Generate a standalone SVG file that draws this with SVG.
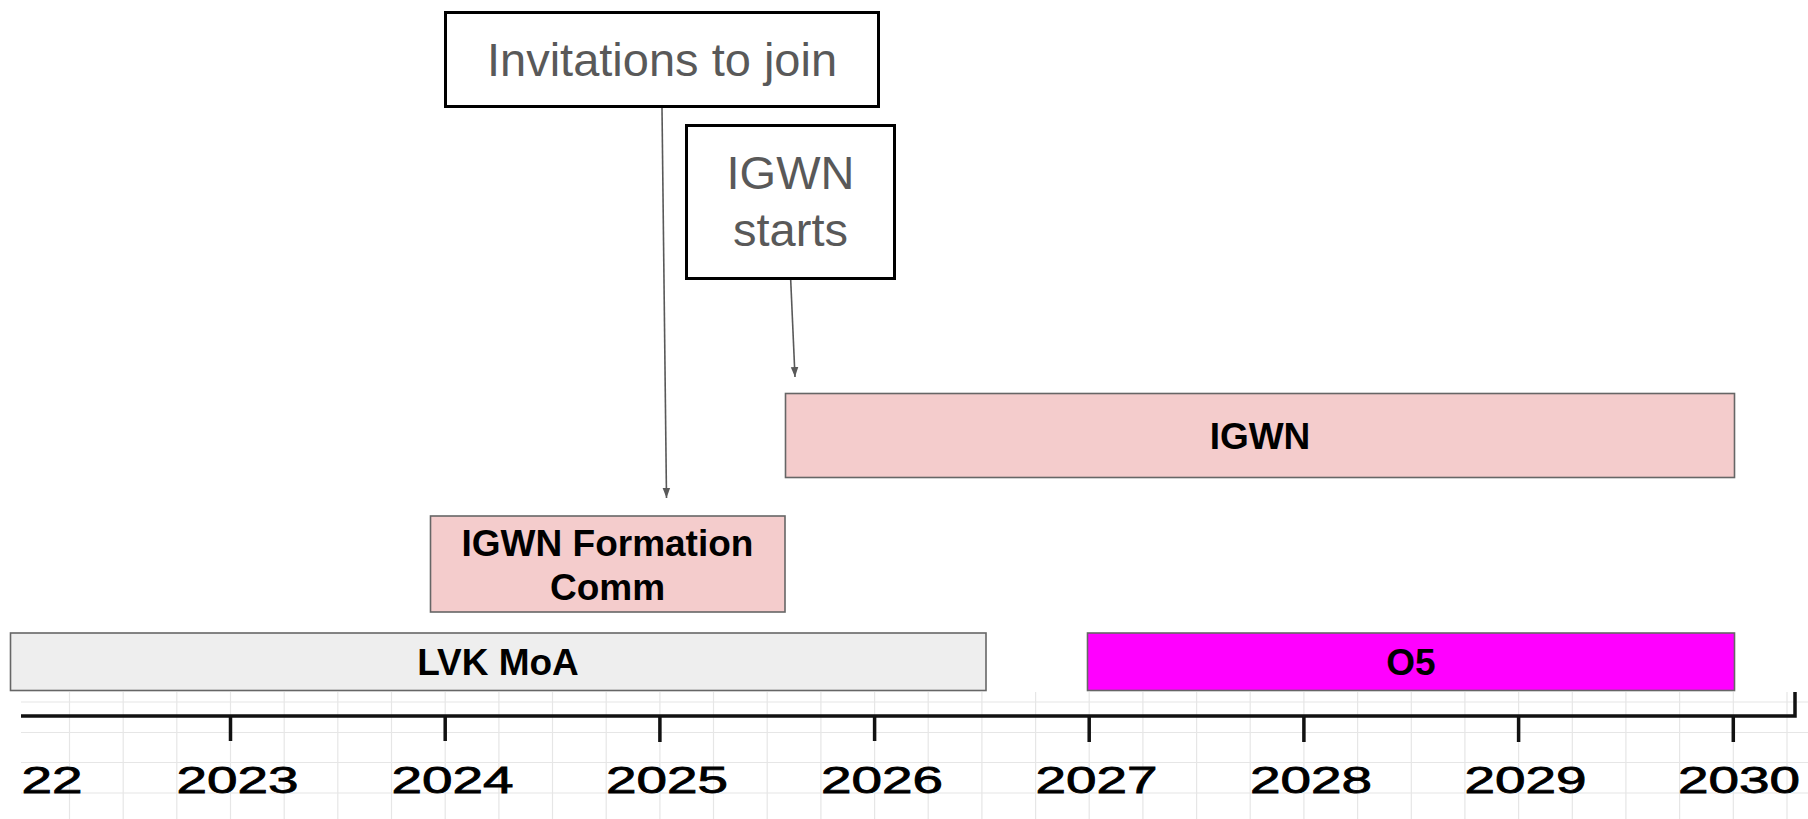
<svg xmlns="http://www.w3.org/2000/svg" width="1808" height="819" viewBox="0 0 1808 819">
<style>
.note{fill:#fff;stroke:#000;stroke-width:3}
.notetxt{font-family:"Liberation Sans",Arial,sans-serif;font-size:47px;fill:#595959;text-anchor:middle}
.bar{stroke:#666;stroke-width:1.6}
.bartxt{font-family:"Liberation Sans",Arial,sans-serif;font-size:37px;font-weight:bold;fill:#000;text-anchor:middle}
.conn{stroke:#595959;stroke-width:1.6;fill:none}
.grid line{stroke:#e6e6e6;stroke-width:1.2}
.axis{stroke:#111;stroke-width:3.5;fill:none}
.year{font-family:"Liberation Sans",Arial,sans-serif;font-size:37px;fill:#000;stroke:#000;stroke-width:0.8;text-anchor:middle}
</style>
<defs>
<marker id="arrow" markerUnits="userSpaceOnUse" markerWidth="10" markerHeight="10" refX="12" refY="4.5" orient="auto" viewBox="0 0 12 9">
<path d="M0,0 L12,4.5 L0,9 z" fill="#595959"/>
</marker>
<clipPath id="tl"><rect x="21" y="692" width="1787" height="127"/></clipPath>
</defs>
<rect width="1808" height="819" fill="#fff"/>
<g id="timeline" clip-path="url(#tl)">
<g class="grid">
<line x1="21" y1="702" x2="1808" y2="702"/>
<line x1="21" y1="732.5" x2="1808" y2="732.5"/>
<line x1="21" y1="762.5" x2="1808" y2="762.5"/>
<line x1="21" y1="793" x2="1808" y2="793"/>
<line x1="69.5" y1="692" x2="69.5" y2="819"/>
<line x1="123.2" y1="692" x2="123.2" y2="819"/>
<line x1="176.8" y1="692" x2="176.8" y2="819"/>
<line x1="230.5" y1="692" x2="230.5" y2="819"/>
<line x1="284.2" y1="692" x2="284.2" y2="819"/>
<line x1="337.8" y1="692" x2="337.8" y2="819"/>
<line x1="391.5" y1="692" x2="391.5" y2="819"/>
<line x1="445.2" y1="692" x2="445.2" y2="819"/>
<line x1="498.9" y1="692" x2="498.9" y2="819"/>
<line x1="552.5" y1="692" x2="552.5" y2="819"/>
<line x1="606.2" y1="692" x2="606.2" y2="819"/>
<line x1="659.9" y1="692" x2="659.9" y2="819"/>
<line x1="713.5" y1="692" x2="713.5" y2="819"/>
<line x1="767.2" y1="692" x2="767.2" y2="819"/>
<line x1="820.9" y1="692" x2="820.9" y2="819"/>
<line x1="874.6" y1="692" x2="874.6" y2="819"/>
<line x1="928.2" y1="692" x2="928.2" y2="819"/>
<line x1="981.9" y1="692" x2="981.9" y2="819"/>
<line x1="1035.6" y1="692" x2="1035.6" y2="819"/>
<line x1="1089.2" y1="692" x2="1089.2" y2="819"/>
<line x1="1142.9" y1="692" x2="1142.9" y2="819"/>
<line x1="1196.6" y1="692" x2="1196.6" y2="819"/>
<line x1="1250.2" y1="692" x2="1250.2" y2="819"/>
<line x1="1303.9" y1="692" x2="1303.9" y2="819"/>
<line x1="1357.6" y1="692" x2="1357.6" y2="819"/>
<line x1="1411.3" y1="692" x2="1411.3" y2="819"/>
<line x1="1464.9" y1="692" x2="1464.9" y2="819"/>
<line x1="1518.6" y1="692" x2="1518.6" y2="819"/>
<line x1="1572.3" y1="692" x2="1572.3" y2="819"/>
<line x1="1625.9" y1="692" x2="1625.9" y2="819"/>
<line x1="1679.6" y1="692" x2="1679.6" y2="819"/>
<line x1="1733.3" y1="692" x2="1733.3" y2="819"/>
<line x1="1787" y1="692" x2="1787" y2="819"/>
</g>
<path class="axis" d="M21,716 H1795 V691"/>
<path class="axis" d="M230.5,716 V741 M445.2,716 V741 M659.9,716 V742 M874.6,716 V741 M1089.2,716 V742 M1303.9,716 V742 M1518.6,716 V742 M1733.3,716 V742"/>
<g>
<text class="year" x="52" y="793" textLength="61" lengthAdjust="spacingAndGlyphs">22</text>
<text class="year" x="237.5" y="793" textLength="122" lengthAdjust="spacingAndGlyphs">2023</text>
<text class="year" x="452.5" y="793" textLength="122" lengthAdjust="spacingAndGlyphs">2024</text>
<text class="year" x="667" y="793" textLength="122" lengthAdjust="spacingAndGlyphs">2025</text>
<text class="year" x="882" y="793" textLength="122" lengthAdjust="spacingAndGlyphs">2026</text>
<text class="year" x="1096.5" y="793" textLength="122" lengthAdjust="spacingAndGlyphs">2027</text>
<text class="year" x="1311" y="793" textLength="122" lengthAdjust="spacingAndGlyphs">2028</text>
<text class="year" x="1525.5" y="793" textLength="122" lengthAdjust="spacingAndGlyphs">2029</text>
<text class="year" x="1739" y="793" textLength="122" lengthAdjust="spacingAndGlyphs">2030</text>
</g>
</g>
<g id="connectors">
<line class="conn" x1="662" y1="108" x2="666.5" y2="498" marker-end="url(#arrow)"/>
<line class="conn" x1="790.7" y1="280" x2="795" y2="377" marker-end="url(#arrow)"/>
</g>
<g id="invitations">
<rect class="note" x="445.5" y="12.5" width="433" height="94"/>
<text class="notetxt" x="662" y="76">Invitations to join</text>
</g>
<g id="igwn-starts">
<rect class="note" x="686.5" y="125.5" width="208" height="153"/>
<text class="notetxt" x="790.5" y="189">IGWN</text>
<text class="notetxt" x="790.5" y="246">starts</text>
</g>
<g id="igwn">
<rect class="bar" x="785.5" y="393.5" width="949" height="84" fill="#f4cccc"/>
<text class="bartxt" x="1260" y="449">IGWN</text>
</g>
<g id="formation">
<rect class="bar" x="430.5" y="516" width="354.5" height="96" fill="#f4cccc"/>
<text class="bartxt" x="607.5" y="556">IGWN Formation</text>
<text class="bartxt" x="607.5" y="600">Comm</text>
</g>
<g id="lvk-moa">
<rect class="bar" x="10.5" y="633" width="975.5" height="57.5" fill="#eeeeee"/>
<text class="bartxt" x="498" y="675">LVK MoA</text>
</g>
<g id="o5">
<rect class="bar" x="1087.5" y="633" width="647" height="57.5" fill="#ff00ff"/>
<text class="bartxt" x="1411" y="675">O5</text>
</g>
</svg>
